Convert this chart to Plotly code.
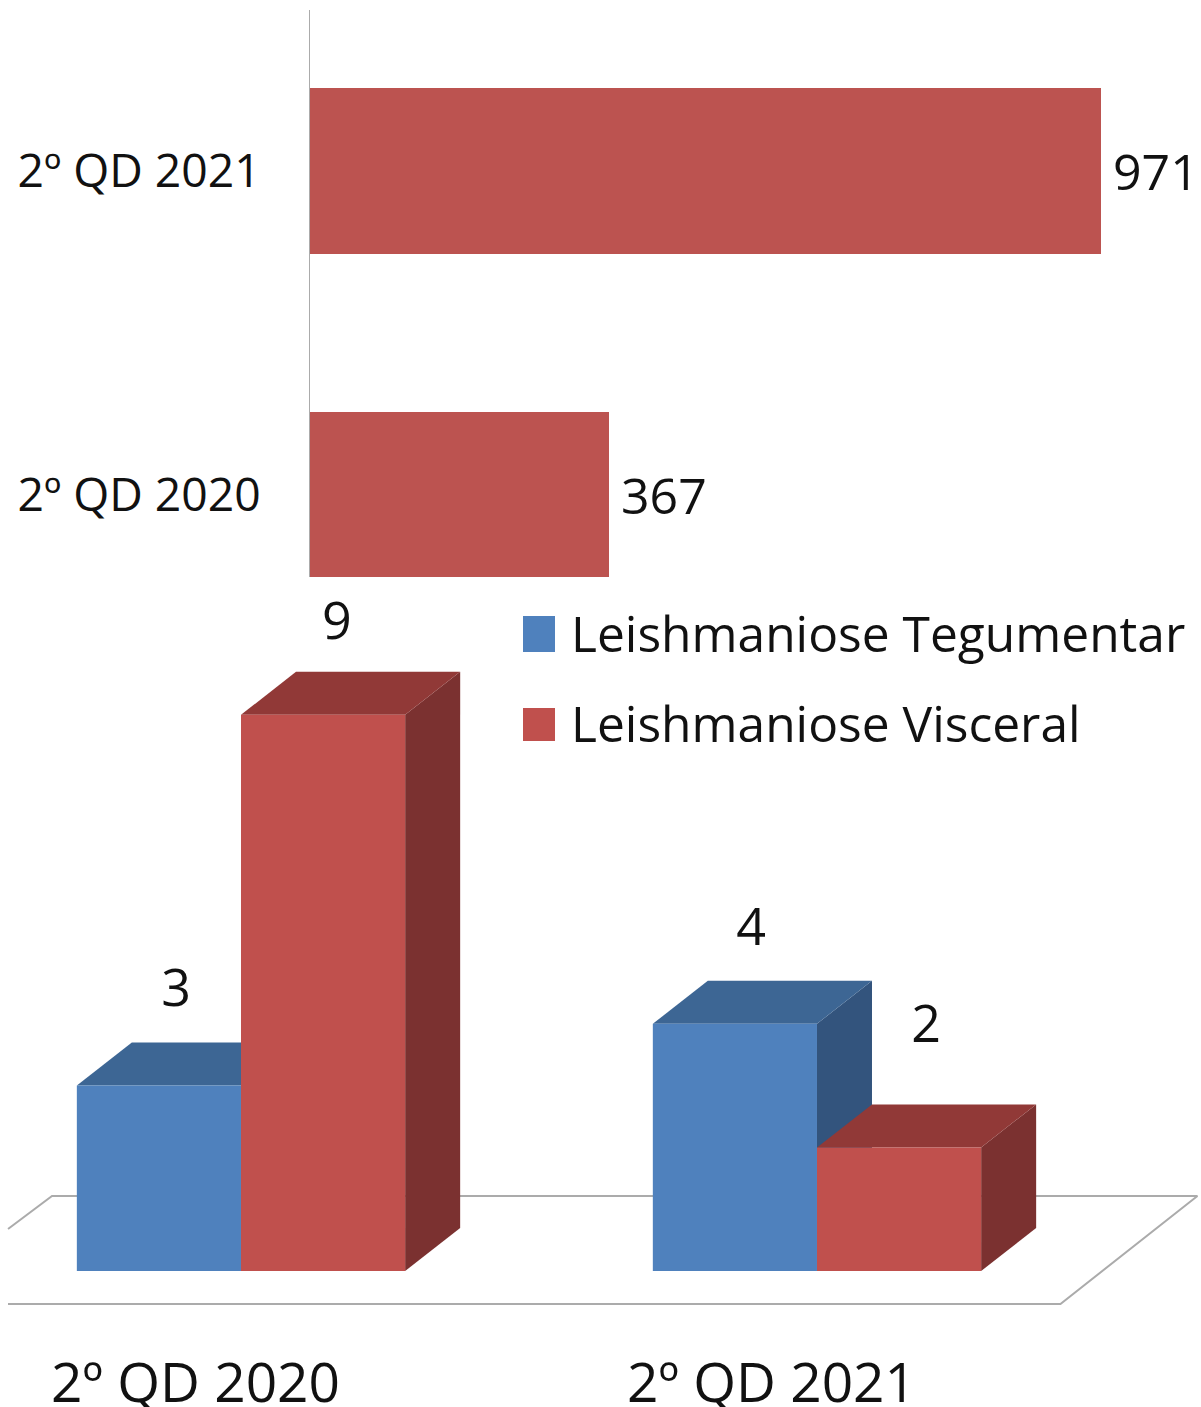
import plotly.graph_objects as go

# ---------- data ----------
periods_top = ["2º QD 2020", "2º QD 2021"]
visceral_top = [367, 971]

periods_bottom = ["2º QD 2020", "2º QD 2021"]
series_names = ["Leishmaniose Tegumentar", "Leishmaniose Visceral"]
tegumentar = [3, 4]
visceral = [9, 2]

# ---------- style ----------
W, H = 1201, 1407
FONT = "Open Sans"
INK = "#111111"
GRID = "#ababab"
C = {
    0: dict(front="#4F81BD", top="#3D6694", side="#33547D"),
    1: dict(front="#C0504D", top="#913937", side="#7B3130"),
}
BAR_W = 0.285          # bar width in category units
DX, DY = 0.0955, 0.696 # oblique depth in axis units
# label offsets (x in category units, y in value units), per series and category
LABEL_OFF = {0: [(0.03, 0.795), (0.028, 0.795)], 1: [(0.024, 0.745), (0.047, 1.215)]}

def px_x(px):
    return px / W

def py(px):
    return 1 - px / H

fig = go.Figure()

# ---------- top: horizontal bars ----------
fig.add_trace(go.Bar(
    y=periods_top, x=visceral_top, orientation="h", width=0.513,
    marker=dict(color="#BC5350", line=dict(width=0)),
    xaxis="x", yaxis="y", showlegend=False,
))
annos = [
    dict(text=str(v), x=v, y=p, xref="x", yref="y", xanchor="left", yanchor="middle",
         xshift=10, yshift=0, showarrow=False,
         font=dict(family=FONT, size=50, color=INK))
    for p, v in zip(periods_top, visceral_top)
]

# ---------- bottom: oblique 3-D columns ----------
floor_x = [-0.4045, 1.4227, 1.6605, -0.3281, -0.4045]
floor_y = [-0.534, -0.534, 1.214, 1.214, 0.68]
fig.add_trace(go.Scatter(
    x=floor_x, y=floor_y, mode="lines", line=dict(color=GRID, width=2),
    xaxis="x2", yaxis="y2", showlegend=False, hoverinfo="skip",
))

def poly(xs, ys, color):
    fig.add_trace(go.Scatter(
        x=xs, y=ys, mode="lines", fill="toself", fillcolor=color,
        line=dict(width=0, color=color), xaxis="x2", yaxis="y2",
        showlegend=False, hoverinfo="skip",
    ))

labx, laby, labt = [], [], []
for cat in range(len(periods_bottom)):
    for s, vals in enumerate([tegumentar, visceral]):
        v = vals[cat]
        x0 = cat - BAR_W + s * BAR_W
        x1 = x0 + BAR_W
        poly([x1, x1 + DX, x1 + DX, x1, x1], [0, DY, v + DY, v, 0], C[s]["side"])
        poly([x0, x1, x1 + DX, x0 + DX, x0], [v, v, v + DY, v + DY, v], C[s]["top"])
        poly([x0, x1, x1, x0, x0], [0, 0, v, v, 0], C[s]["front"])
        ox, oy = LABEL_OFF[s][cat]
        labx.append((x0 + x1) / 2 + ox)
        laby.append(v + DY + oy)
        labt.append(str(v))

fig.add_trace(go.Scatter(
    x=labx, y=laby, text=labt, mode="text", cliponaxis=False,
    textfont=dict(family=FONT, size=52, color=INK),
    xaxis="x2", yaxis="y2", showlegend=False, hoverinfo="skip",
))

# ---------- legend drawn at full size ----------
shapes = []
for i, (name, (top, bot, mid)) in enumerate(zip(series_names, [(616, 652, 633), (708, 741, 723)])):
    shapes.append(dict(type="rect", xref="paper", yref="paper",
                       x0=px_x(523), x1=px_x(555), y0=py(bot), y1=py(top),
                       fillcolor=C[i]["front"], line=dict(width=0)))
    annos.append(dict(text=name, xref="paper", yref="paper", x=px_x(569), y=py(mid),
                      xanchor="left", yanchor="middle", showarrow=False,
                      font=dict(family=FONT, size=49.7, color=INK)))

fig.update_layout(
    width=W, height=H, autosize=False,
    margin=dict(l=0, r=0, t=0, b=0),
    paper_bgcolor="white", plot_bgcolor="rgba(0,0,0,0)",
    bargap=0, shapes=shapes, annotations=annos, showlegend=False,
    font=dict(family=FONT, color=INK),
    xaxis=dict(domain=[px_x(310), 1], range=[0, 1093.8], visible=False, anchor="y"),
    yaxis=dict(domain=[py(577), py(10)], range=[-0.255, 1.498], anchor="x",
               type="category", categoryorder="array", categoryarray=periods_top,
               showline=True, linecolor=GRID, linewidth=1, showgrid=False,
               ticks="", ticklabelstandoff=39,
               tickfont=dict(family=FONT, size=46.3, color=INK)),
    xaxis2=dict(domain=[0, 1], range=[-0.4184, 1.6667], anchor="y2",
                tickmode="array", tickvals=[i - 0.079 for i in range(len(periods_bottom))],
                ticktext=periods_bottom, showgrid=False, zeroline=False, showline=False,
                ticks="outside", ticklen=10, tickcolor="rgba(0,0,0,0)", automargin=False,
                tickfont=dict(family=FONT, size=55, color=INK)),
    yaxis2=dict(domain=[py(1325), py(600)], range=[-0.874, 10.858], anchor="x2",
                visible=False),
)

fig.write_html("out.html", config=dict(displayModeBar=False),
               default_width=f"{W}px", default_height=f"{H}px",
               post_script="document.body.style.margin='0';document.body.style.overflow='hidden';")
